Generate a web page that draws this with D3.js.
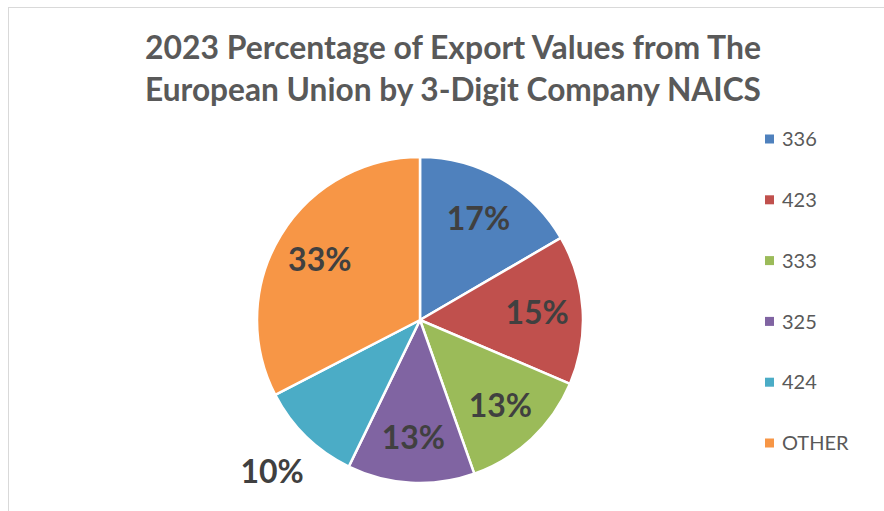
<!doctype html>
<html>
  <head>
    <script src="https://cdnjs.cloudflare.com/ajax/libs/d3/7.8.5/d3.min.js"></script>
    <style>
      body { margin: 0; background: #fff; }
      text { font-family: Lato, "Open Sans", sans-serif; }
      .title { font-weight: bold; fill: #595959; }
      .slice { stroke: #fff; stroke-width: 2.5; }
      .pct { font-weight: bold; fill: #404040; font-size: 32px; }
      .legend text { fill: #595959; font-size: 20px; }
    </style>
  </head>
  <body>
    <div id="chart"></div>
    <script>
      var width = 884, height = 511;

      // data (share of export value, %)
      var categories = ["336", "423", "333", "325", "424", "OTHER"];
      var values = [16.6, 14.8, 13.2, 12.6, 10.2, 32.6];
      var colors = ["#4F81BD", "#C0504D", "#9BBB59", "#8064A2", "#4BACC6", "#F79646"];
      var outsideLabels = ["424"];
      var titleLines = ["2023 Percentage of Export Values from The",
                        "European Union by 3-Digit Company NAICS"];

      var svg = d3.select("#chart").append("svg")
          .attr("width", width)
          .attr("height", height);

      // chart area border
      svg.append("rect")
          .attr("x", 8.5).attr("y", 7.5)
          .attr("width", 1000).attr("height", 1000)
          .attr("fill", "none")
          .attr("stroke", "#d9d9d9");

      // title
      var title = svg.append("text")
          .attr("class", "title")
          .attr("text-anchor", "middle")
          .style("font-size", "33px");
      titleLines.forEach(function(t, i) {
        var ts = title.append("tspan")
            .attr("x", 453)
            .attr("y", 59 + i * 42)
            .text(t);
        var w = ts.node().getComputedTextLength();
        if (w > 616) ts.attr("textLength", 616).attr("lengthAdjust", "spacingAndGlyphs");
      });

      var data = categories.map(function(c, i) {
        return { cat: c, value: values[i], color: colors[i] };
      });
      var total = d3.sum(values);

      var cx = 420, cy = 320, R = 163;
      var pie = d3.pie().sort(null).value(d => d.value);
      var arc = d3.arc().innerRadius(0).outerRadius(R);
      var labelArc = d3.arc().innerRadius(R * 0.72).outerRadius(R * 0.72);
      var outArc = d3.arc().innerRadius(R * 1.3).outerRadius(R * 1.3);

      var g = svg.append("g").attr("transform", "translate(" + cx + "," + cy + ")");
      var arcs = pie(data);

      g.selectAll("path.slice")
        .data(arcs)
        .enter()
        .append("path")
          .attr("class", "slice")
          .attr("d", arc)
          .attr("fill", d => d.data.color);

      g.selectAll("text.pct")
        .data(arcs)
        .enter()
        .append("text")
          .attr("class", "pct")
          .attr("text-anchor", "middle")
          .attr("dy", "0.36em")
          .attr("transform", function(d) {
            var a = outsideLabels.indexOf(d.data.cat) >= 0 ? outArc : labelArc;
            return "translate(" + a.centroid(d) + ")";
          })
          .text(d => Math.round(d.data.value / total * 100) + "%");

      // legend
      var ly = d3.scalePoint().domain(categories).range([139, 443]);
      var legend = svg.append("g").attr("class", "legend")
        .selectAll("g")
        .data(data)
        .enter()
        .append("g")
          .attr("transform", d => "translate(765," + ly(d.cat) + ")");
      legend.append("rect")
          .attr("x", 0).attr("y", -4.5)
          .attr("width", 9).attr("height", 9)
          .attr("fill", d => d.color);
      legend.append("text")
          .attr("x", 17)
          .attr("dy", "0.36em")
          .text(d => d.cat);
    </script>
  </body>
</html>
